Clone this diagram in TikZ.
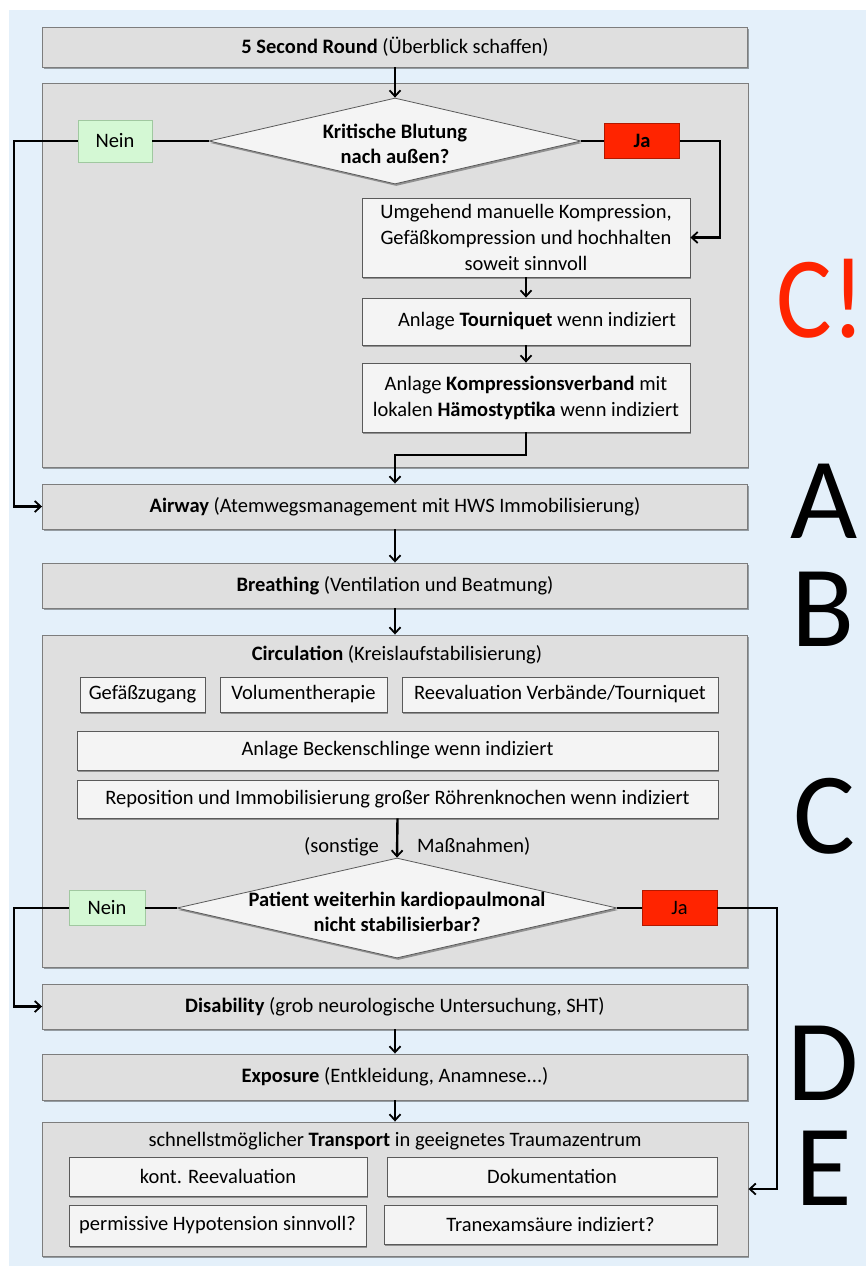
\documentclass[tikz,border=0pt]{standalone}
\usepackage{fontspec}
\setmainfont{Carlito}
\usetikzlibrary{shapes.geometric,arrows.meta,shadows}
\definecolor{bgblue}{RGB}{228,240,250}
\definecolor{cgray}{RGB}{223,223,223}
\definecolor{wfill}{RGB}{244,244,244}
\definecolor{ngreen}{RGB}{212,248,212}
\definecolor{ngborder}{RGB}{160,200,160}
\definecolor{jred}{RGB}{255,36,0}
\definecolor{bord}{RGB}{125,125,125}
\definecolor{wbord}{RGB}{90,90,90}
\tikzset{
  shad/.style={drop shadow={shadow xshift=1.2pt, shadow yshift=-2pt, opacity=0.35, fill=black}},
  stagebox/.style={draw=bord, line width=0.9pt, fill=cgray, shad, inner sep=0pt, align=center},
  holder/.style={draw=bord, line width=0.9pt, fill=cgray, inner sep=0pt},
  wbox/.style={draw=wbord, line width=0.8pt, fill=wfill, shad, inner sep=0pt, align=center},
  neinbox/.style={draw=ngborder, line width=0.8pt, fill=ngreen, inner sep=0pt},
  jabox/.style={draw=jred!70!black, line width=0.5pt, fill=jred, inner sep=0pt},
  dia/.style={diamond, draw=wbord, line width=0.8pt, fill=wfill, shad, inner sep=0pt},
  conn/.style={line width=2.4pt, black},
  arr/.style={conn, -{Straight Barb[length=6pt,width=11pt,line width=1.8pt]}},
  bigletter/.style={font=\fontsize{116}{116}\selectfont, anchor=base, inner sep=0pt},
}
\begin{document}
\begin{tikzpicture}[x=1pt,y=-1pt, font=\fontsize{20.5}{25}\selectfont]
\useasboundingbox (0,0) rectangle (866,1267);
\fill[bgblue] (9,10) rectangle (866,1266);

% containers
\node[holder, shad, minimum width=706pt, minimum height=384pt] (c1) at (395,275) {};
\node[stagebox, minimum width=705pt, minimum height=40pt] (n5s) at (395,47) {\textbf{5 Second Round} (Überblick schaffen)};

% diamond 1
\node[dia, minimum width=372pt, minimum height=86pt] (d1) at (395,141) {};
\node[align=center, inner sep=0pt, font=\fontsize{20.5}{25}\selectfont\bfseries] (d1t) at (395,144) {Kritische Blutung\\nach außen?};
\node[neinbox, minimum width=74pt, minimum height=42pt] (nein1) at (115,141) {Nein};
\node[jabox, minimum width=75pt, minimum height=35pt] (ja1) at (642,141) {\textbf{Ja}};

\node[wbox, minimum width=328pt, minimum height=79pt, font=\fontsize{20.5}{26}\selectfont] (umg) at (526,237.5) {Umgehend manuelle Kompression,\\Gefäßkompression und hochhalten\\soweit sinnvoll};
\node[wbox, minimum width=328pt, minimum height=47pt] (tour) at (526,321.5) {\hspace{22pt}Anlage \textbf{Tourniquet} wenn indiziert};
\node[wbox, minimum width=328pt, minimum height=69pt, font=\fontsize{20.5}{26}\selectfont] (komp) at (526,397.5) {Anlage \textbf{Kompressionsverband} mit\\lokalen \textbf{Hämostyptika} wenn indiziert};

\node[stagebox, minimum width=705pt, minimum height=45pt] (airway) at (395,506.5) {\textbf{Airway} (Atemwegsmanagement mit HWS Immobilisierung)};
\node[stagebox, minimum width=705pt, minimum height=45pt] (breath) at (395,585.5) {\textbf{Breathing} (Ventilation und Beatmung)};

% circulation container
\node[holder, shad, minimum width=705pt, minimum height=332pt] (c2) at (395,801) {};
\node[inner sep=0pt] (c2t) at (397,655) {\textbf{Circulation} (Kreislaufstabilisierung)};
\node[wbox, minimum width=125pt, minimum height=35pt] (gef) at (142.5,694.5) {Gefäßzugang};
\node[wbox, minimum width=167pt, minimum height=35pt] (vol) at (303.5,694.5) {Volumentherapie};
\node[wbox, minimum width=316pt, minimum height=35pt] (reev) at (560,694.5) {Reevaluation Verbände/Tourniquet};
\node[wbox, minimum width=641pt, minimum height=39pt] (beck) at (397.5,750.5) {Anlage Beckenschlinge wenn indiziert};
\node[wbox, minimum width=641pt, minimum height=38pt] (repo) at (397.5,799) {Reposition und Immobilisierung großer Röhrenknochen wenn indiziert};

\node[dia, minimum width=440pt, minimum height=100pt] (d2) at (397,908) {};
\node[align=center, inner sep=0pt, font=\fontsize{20.5}{25}\selectfont\bfseries] (d2t) at (397,912) {Patient weiterhin kardiopaulmonal\\nicht stabilisierbar?};
\node[neinbox, minimum width=76pt, minimum height=35pt] (nein2) at (107,908) {Nein};
\node[jabox, minimum width=75pt, minimum height=35pt] (ja2) at (679.5,908) {Ja};
\node[anchor=base east, inner sep=0pt] (sonst) at (379,852) {(sonstige};
\node[anchor=base west, inner sep=0pt] (massn) at (417,852) {Maßnahmen)};

\node[stagebox, minimum width=705pt, minimum height=45pt] (disab) at (395,1006.5) {\textbf{Disability} (grob neurologische Untersuchung, SHT)};
\node[stagebox, minimum width=705pt, minimum height=46pt] (expo) at (395,1077) {\textbf{Exposure} (Entkleidung, Anamnese...)};

% transport container
\node[holder, shad, minimum width=706pt, minimum height=134pt] (trans) at (395,1189) {};
\node[inner sep=0pt] (transt) at (395,1141) {schnellstmöglicher \textbf{Transport} in geeignetes Traumazentrum};
\node[wbox, minimum width=298pt, minimum height=39pt] (kont) at (218,1176.5) {kont. Reevaluation};
\node[wbox, minimum width=330pt, minimum height=39pt] (doku) at (552,1176.5) {Dokumentation};
\node[wbox, minimum width=297pt, minimum height=41pt] (perm) at (217.5,1225.5) {permissive Hypotension sinnvoll?};
\node[wbox, minimum width=333pt, minimum height=39pt] (tran) at (550.5,1224.5) {Tranexamsäure indiziert?};

% letters
\node[bigletter, text=jred] (lc1) at (821,337) {\scalebox{0.9}[1]{C!}};
\node[bigletter] (la) at (824,538) {A};
\node[bigletter] (lb) at (823,646) {B};
\node[bigletter] (lc) at (824,853) {C};
\node[bigletter] (ld) at (823,1100) {D};
\node[bigletter] (le) at (824,1205) {E};

% coordinates for connector routing
\coordinate (left1) at (14,141);
\coordinate (right1) at (720,141);
\coordinate (join1) at (395,455);
\coordinate (left2) at (14,908);
\coordinate (right2) at (777,908);

% connectors
\draw[arr] (n5s.south) -- (d1.north);
\draw[conn] (d1.west) -- (nein1.east);
\draw[arr] (nein1.west) -- (left1) |- (airway.west);
\draw[conn] (d1.east) -- (ja1.west);
\draw[arr] (ja1.east) -- (right1) |- (umg.east);
\draw[arr] (umg.south) -- (tour.north);
\draw[arr] (tour.south) -- (komp.north);
\draw[arr] (komp.south) |- (join1) -- (airway.north);
\draw[arr] (airway.south) -- (breath.north);
\draw[arr] (breath.south) -- (c2.north);
\draw[arr] (repo.south) -- (d2.north);
\draw[conn] (d2.west) -- (nein2.east);
\draw[arr] (nein2.west) -- (left2) |- (disab.west);
\draw[conn] (d2.east) -- (ja2.west);
\draw[arr, line width=1.8pt] (ja2.east) -- (right2) |- (trans.east);
\draw[arr] (disab.south) -- (expo.north);
\draw[arr] (expo.south) -- (trans.north);
\end{tikzpicture}
\end{document}
